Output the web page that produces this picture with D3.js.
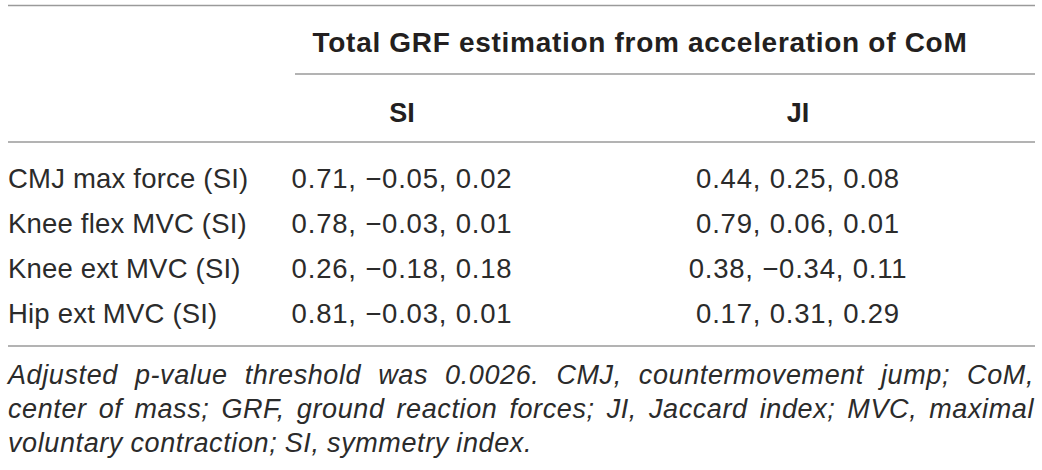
<!DOCTYPE html>
<html>
<head>
<meta charset="utf-8">
<script src="https://cdn.jsdelivr.net/npm/d3@7"></script>
<style>
  html, body { margin: 0; padding: 0; background: #fff; }
  svg { display: block; }
  text { font-family: "Liberation Sans", Arial, Helvetica, sans-serif; fill: #231f20; }
  text.light { fill: #2b2b2b; }
</style>
</head>
<body>
<svg id="chart" width="1042" height="470"></svg>
<script>
// ---- data ----
const groupTitle = "Total GRF estimation from acceleration of CoM";
const columns = ["SI", "JI"];
const rowLabels = ["CMJ max force (SI)", "Knee flex MVC (SI)", "Knee ext MVC (SI)", "Hip ext MVC (SI)"];
const siValues = [[0.71, -0.05, 0.02], [0.78, -0.03, 0.01], [0.26, -0.18, 0.18], [0.81, -0.03, 0.01]];
const jiValues = [[0.44, 0.25, 0.08], [0.79, 0.06, 0.01], [0.38, -0.34, 0.11], [0.17, 0.31, 0.29]];
const captionLines = [
  "Adjusted p-value threshold was 0.0026. CMJ, countermovement jump; CoM,",
  "center of mass; GRF, ground reaction forces; JI, Jaccard index; MVC, maximal",
  "voluntary contraction; SI, symmetry index."
];

// ---- layout ----
const svg = d3.select("#chart");
const left = 8, right = 1035;
const fmt = d3.format(".2f");
const fmtTriple = t => t.map(fmt).join(", ");

const colX = d3.scaleOrdinal().domain(columns).range([402, 798]);
const rowY = d3.scalePoint().domain(rowLabels).range([188, 323]);
const lineColor = "#9a9a9a";

function hline(y, x1, x2) {
  svg.append("line").attr("x1", x1).attr("x2", x2).attr("y1", y).attr("y2", y)
    .attr("stroke", lineColor).attr("stroke-width", 1.6);
}
hline(5.5, left, right);
hline(74, 295, right);
hline(142, left, right);
hline(346, left, right);

// title
svg.append("text").attr("x", 640).attr("y", 52)
  .attr("text-anchor", "middle").attr("font-weight", "bold").attr("font-size", 28)
  .attr("letter-spacing", 0.7)
  .text(groupTitle);

// column headers
svg.selectAll("text.colhead").data(columns).join("text")
  .attr("class", "colhead")
  .attr("x", d => colX(d)).attr("y", 122)
  .attr("text-anchor", "middle").attr("font-weight", "bold").attr("font-size", 27)
  .text(d => d);

// row labels
svg.selectAll("text.rowlab").data(rowLabels).join("text")
  .attr("class", "rowlab light")
  .attr("x", left).attr("y", d => rowY(d))
  .attr("font-size", 27.5).attr("letter-spacing", 0.2)
  .text(d => d);

// values
const cells = [];
rowLabels.forEach((r, i) => {
  cells.push({ row: r, col: "SI", v: siValues[i] });
  cells.push({ row: r, col: "JI", v: jiValues[i] });
});
svg.selectAll("text.cell").data(cells).join("text")
  .attr("class", "cell light")
  .attr("x", d => colX(d.col)).attr("y", d => rowY(d.row))
  .attr("text-anchor", "middle").attr("font-size", 27.5).attr("letter-spacing", 0.8)
  .text(d => fmtTriple(d.v));

// caption (justified except last line)
const capY = d3.scalePoint().domain(d3.range(captionLines.length)).range([384, 452]);
captionLines.forEach((line, i) => {
  const words = line.split(" ");
  const g = svg.append("g");
  const ts = words.map(w => g.append("text").attr("class", "light")
    .attr("font-size", 27).attr("font-style", "italic").attr("letter-spacing", 0.6)
    .attr("y", capY(i)).text(w));
  const widths = ts.map(t => t.node().getComputedTextLength());
  const total = d3.sum(widths);
  const isLast = i === captionLines.length - 1;
  const spaceW = isLast ? 7.5 : (right - 1 - left - total) / (words.length - 1);
  let x = left;
  ts.forEach((t, k) => { t.attr("x", x); x += widths[k] + spaceW; });
});
</script>
</body>
</html>
